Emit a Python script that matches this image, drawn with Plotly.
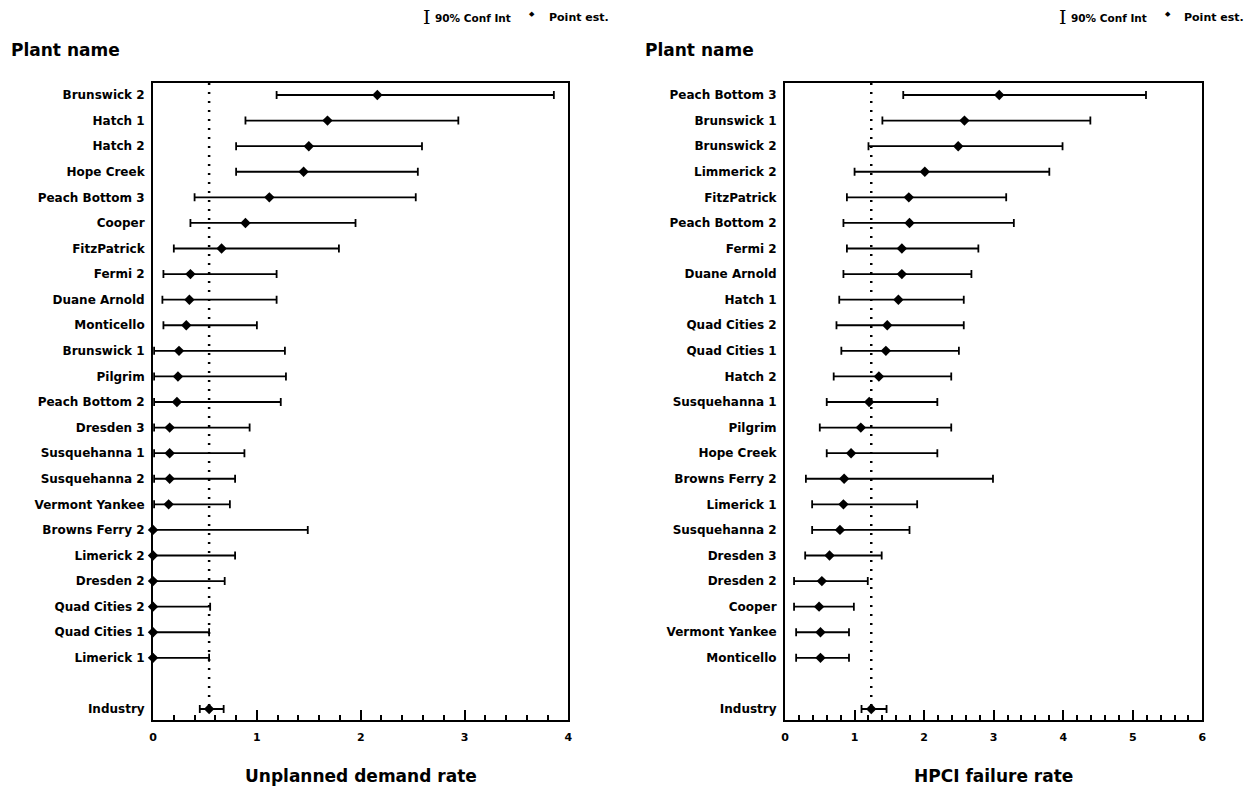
import plotly.graph_objects as go

W, H = 1259, 792
FONT = "DejaVu Sans"

# ---------------- Left panel: unplanned demand rate ----------------
left_plants = ["Brunswick 2", "Hatch 1", "Hatch 2", "Hope Creek", "Peach Bottom 3",
               "Cooper", "FitzPatrick", "Fermi 2", "Duane Arnold", "Monticello",
               "Brunswick 1", "Pilgrim", "Peach Bottom 2", "Dresden 3", "Susquehanna 1",
               "Susquehanna 2", "Vermont Yankee", "Browns Ferry 2", "Limerick 2",
               "Dresden 2", "Quad Cities 2", "Quad Cities 1", "Limerick 1"]
left_lo = [1.19, 0.89, 0.80, 0.80, 0.40, 0.36, 0.20, 0.10, 0.09, 0.10,
           0.01, 0.01, 0.01, 0.01, 0.01, 0.01, 0.01, 0.0, 0.0, 0.0, 0.0, 0.0, 0.0]
left_pt = [2.16, 1.68, 1.50, 1.45, 1.12, 0.89, 0.66, 0.36, 0.35, 0.32,
           0.25, 0.24, 0.23, 0.16, 0.16, 0.16, 0.15, 0.0, 0.0, 0.0, 0.0, 0.0, 0.0]
left_hi = [3.86, 2.94, 2.59, 2.55, 2.53, 1.95, 1.79, 1.19, 1.19, 1.00,
           1.27, 1.28, 1.23, 0.93, 0.88, 0.79, 0.74, 1.49, 0.79, 0.69, 0.55, 0.54, 0.54]
left_ind_lo, left_ind_pt, left_ind_hi = 0.45, 0.54, 0.68
left_xticks = [0, 1, 2, 3, 4]

# ---------------- Right panel: HPCI failure rate ----------------
right_plants = ["Peach Bottom 3", "Brunswick 1", "Brunswick 2", "Limmerick 2", "FitzPatrick",
                "Peach Bottom 2", "Fermi 2", "Duane Arnold", "Hatch 1", "Quad Cities 2",
                "Quad Cities 1", "Hatch 2", "Susquehanna 1", "Pilgrim", "Hope Creek",
                "Browns Ferry 2", "Limerick 1", "Susquehanna 2", "Dresden 3", "Dresden 2",
                "Cooper", "Vermont Yankee", "Monticello"]
right_lo = [1.70, 1.40, 1.20, 1.00, 0.89, 0.84, 0.89, 0.84, 0.78, 0.74,
            0.81, 0.70, 0.60, 0.50, 0.60, 0.30, 0.39, 0.39, 0.29, 0.13, 0.13, 0.16, 0.16]
right_pt = [3.08, 2.58, 2.49, 2.01, 1.78, 1.79, 1.68, 1.68, 1.63, 1.47,
            1.45, 1.35, 1.21, 1.09, 0.95, 0.85, 0.84, 0.79, 0.64, 0.53, 0.49, 0.51, 0.51]
right_hi = [5.19, 4.39, 3.99, 3.80, 3.18, 3.29, 2.78, 2.68, 2.57, 2.57,
            2.50, 2.39, 2.19, 2.39, 2.19, 2.99, 1.90, 1.79, 1.39, 1.19, 0.99, 0.92, 0.92]
right_ind_lo, right_ind_pt, right_ind_hi = 1.10, 1.24, 1.46
right_xticks = [0, 1, 2, 3, 4, 5, 6]

# ---------------- layout geometry (pixels) ----------------
FRAME_TOP, FRAME_BOT = 83, 720
L_X0, L_X1 = 150, 568
R_X0, R_X1 = 786, 1206


def px_x(p):
    return p / W


def px_y(p):
    return 1 - p / H


fig = go.Figure()


def add_panel(plants, lo, pt, hi, ind_lo, ind_pt, ind_hi, xref, yref):
    n = len(plants)
    ypos = list(range(n)) + [n + 1]
    los = lo + [ind_lo]
    pts = pt + [ind_pt]
    his = hi + [ind_hi]
    # dotted reference line at the industry estimate
    fig.add_trace(go.Scatter(
        x=[ind_pt, ind_pt], y=[-0.47, n + 1], mode="lines",
        line=dict(color="black", width=2.5, dash="2px,7px"),
        xaxis=xref, yaxis=yref, showlegend=False, hoverinfo="skip", cliponaxis=False))
    fig.add_trace(go.Scatter(
        x=pts, y=ypos, mode="markers",
        marker=dict(symbol="diamond", size=8, color="black"),
        error_x=dict(type="data", symmetric=False,
                     array=[h - p for h, p in zip(his, pts)],
                     arrayminus=[p - l for p, l in zip(pts, los)],
                     color="black", thickness=1.8, width=4),
        xaxis=xref, yaxis=yref, showlegend=False, cliponaxis=False))
    return ypos, plants + ["Industry"]


lpos, ltext = add_panel(left_plants, left_lo, left_pt, left_hi,
                        left_ind_lo, left_ind_pt, left_ind_hi, "x", "y")
rpos, rtext = add_panel(right_plants, right_lo, right_pt, right_hi,
                        right_ind_lo, right_ind_pt, right_ind_hi, "x2", "y2")

ydom = [px_y(FRAME_BOT), px_y(FRAME_TOP)]
n_rows = len(left_plants) + 1


def xaxis_cfg(x0, x1, rng, tickvals, anchor):
    return dict(
        domain=[px_x(x0), px_x(x1)], range=rng, anchor=anchor,
        showline=True, linewidth=2, linecolor="black", mirror=True,
        tickmode="array", tickvals=tickvals,
        ticks="inside", ticklen=10, tickwidth=2, tickcolor="black",
        minor=dict(tickmode="linear", tick0=0, dtick=0.2, ticks="inside",
                   ticklen=5, tickwidth=1.5, tickcolor="black", showgrid=False),
        showgrid=False, zeroline=False,
        tickfont=dict(family=FONT, size=11, color="black", weight="bold"),
        ticklabelstandoff=6,
    )


def yaxis_cfg(pos, text, anchor):
    return dict(
        domain=ydom, anchor=anchor,
        showline=True, linewidth=2, linecolor="black", mirror=True,
        ticks="", showgrid=False, zeroline=False,
        range=[n_rows + 0.43, -0.47],
        tickmode="array", tickvals=pos, ticktext=text,
        tickfont=dict(family=FONT, size=12, color="black", weight="bold"),
        ticklabelstandoff=4,
    )


fig.update_layout(
    width=W, height=H, margin=dict(l=0, r=0, t=0, b=0),
    paper_bgcolor="white", plot_bgcolor="white",
    xaxis=xaxis_cfg(L_X0, L_X1, [0, 4], left_xticks, "y"),
    yaxis=yaxis_cfg(lpos, ltext, "x"),
    xaxis2=xaxis_cfg(R_X0, R_X1, [0, 6], right_xticks, "y2"),
    yaxis2=yaxis_cfg(rpos, rtext, "x2"),
)

ann = []


def txt(x, y, s, size, xanchor="left", family=FONT, weight="bold"):
    ann.append(dict(x=px_x(x), y=px_y(y), xref="paper", yref="paper", text=s,
                    showarrow=False, xanchor=xanchor, yanchor="middle",
                    font=dict(family=family, size=size, color="black", weight=weight)))


# "Plant name" headers
txt(5, 50, "Plant name", 17)
txt(643, 50, "Plant name", 17)
# axis titles
txt((L_X0 + L_X1) / 2, 776, "Unplanned demand rate", 17, xanchor="center")
txt((R_X0 + R_X1) / 2, 776, "HPCI failure rate", 17, xanchor="center")

# legends
for ox in (L_X1 + 58, R_X1 + 60):
    txt(ox - 206, 17, "I", 19, family="DejaVu Serif", weight="normal")
    txt(ox - 194, 18, "90% Conf Int", 10.5)
    txt(ox - 100, 14, "\u25C6", 7)
    txt(ox - 80, 18, "Point est.", 11)

fig.update_layout(annotations=ann)
fig.write_html("out.html")
